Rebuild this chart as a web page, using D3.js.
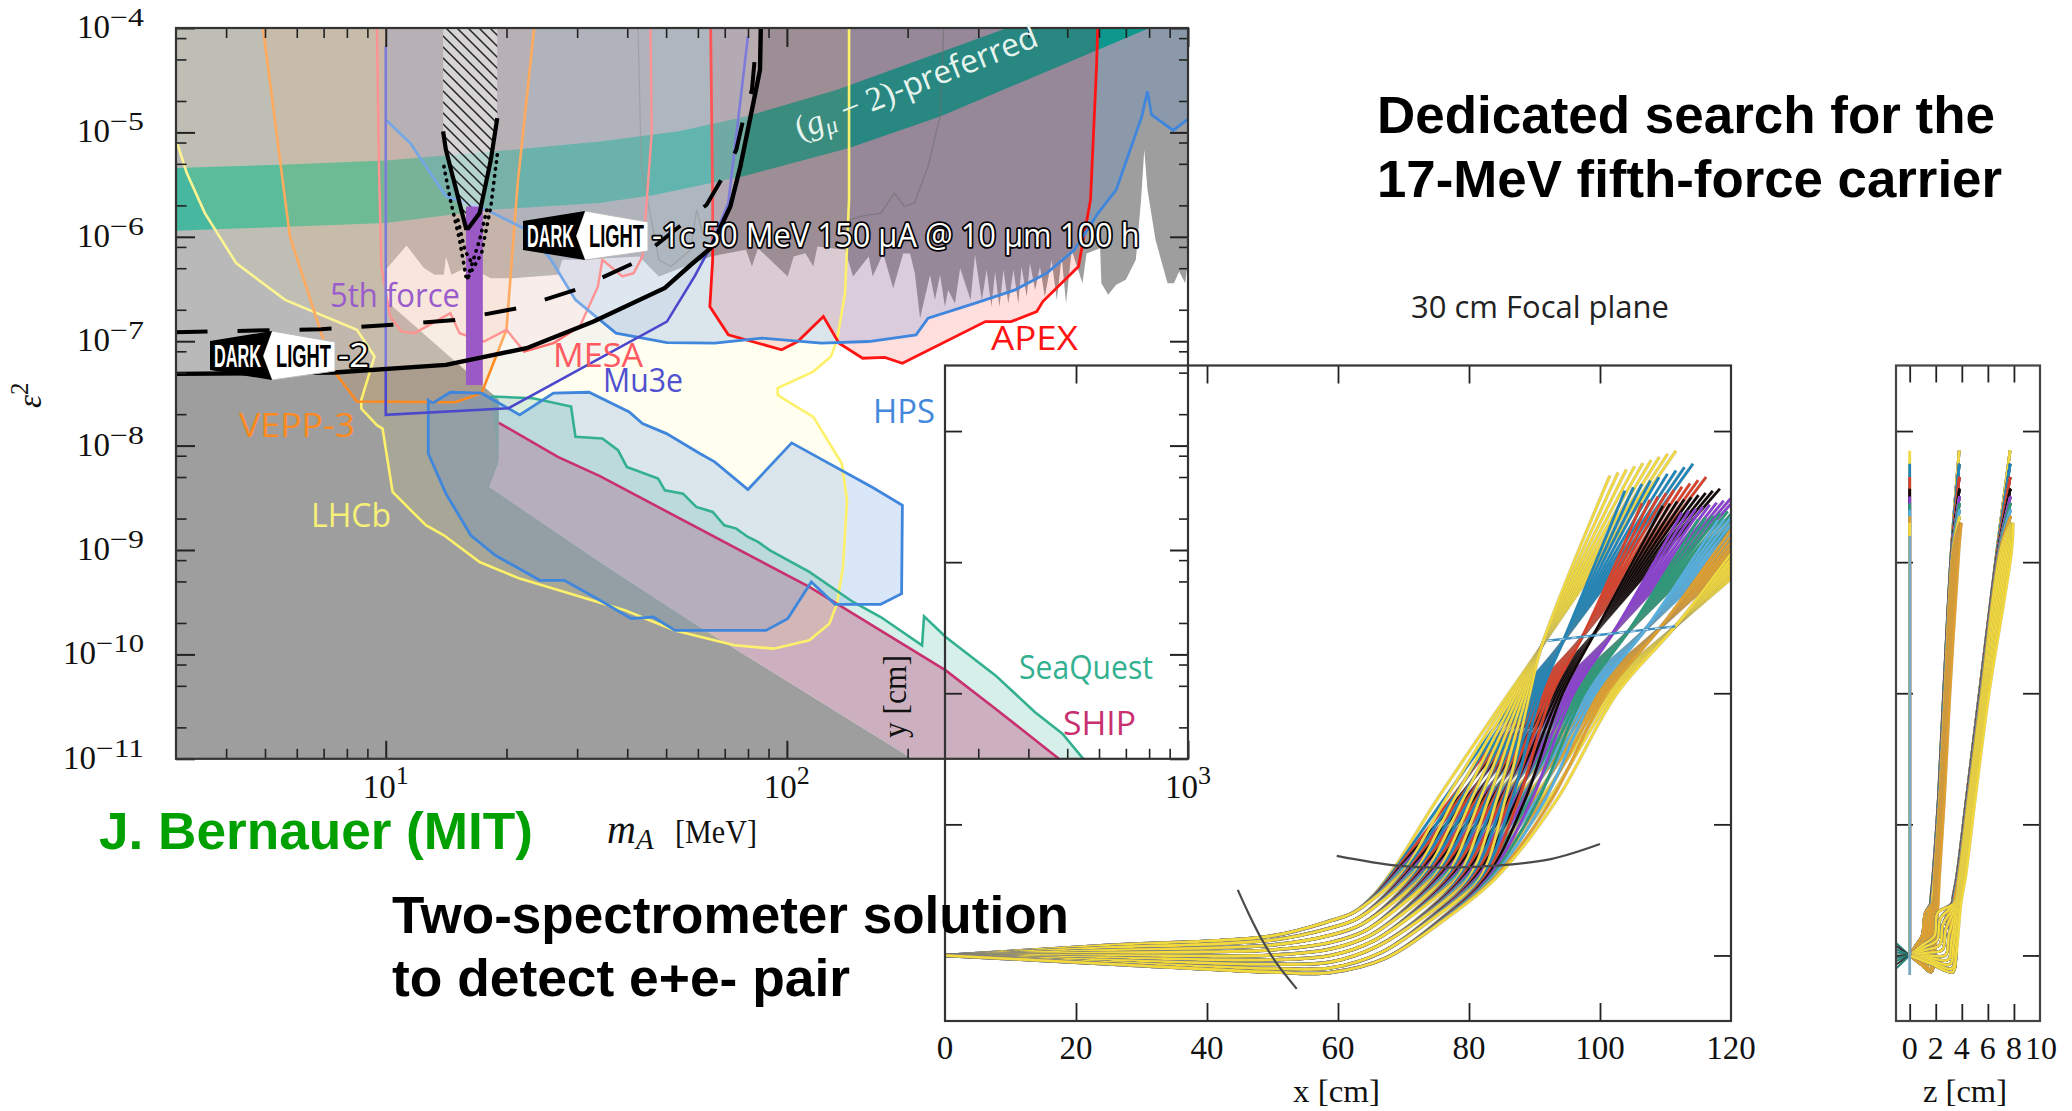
<!DOCTYPE html>
<html>
<head>
<meta charset="utf-8">
<title>Dedicated search for the 17-MeV fifth-force carrier</title>
<script src="https://cdn.jsdelivr.net/npm/d3@7"></script>
<style>
  html, body { margin: 0; padding: 0; background: #fff; }
  svg { display: block; }
  .serif { font-family: "Liberation Serif", serif; fill: #111; }
  .sans { font-family: "Open Sans", sans-serif; }
  .bold { font-family: "Liberation Sans", sans-serif; font-weight: bold; }
</style>
</head>
<body>
<svg id="chart" width="2072" height="1111"></svg>
<script>
"use strict";

/* Exclusion plot, all curves are [log10(mA / MeV), log10(eps^2)]. */

const m_major = [10, 100, 1000];
const m_minor = [4, 5, 6, 7, 8, 9, 20, 30, 40, 50, 60, 70, 80, 90, 200, 300, 400, 500, 600, 700, 800, 900];
const eps_major_exp = [-4, -5, -6, -7, -8, -9, -10, -11];
const eps_minor_mant = [2, 5, 8];

const gray_region = [[0.476,-4],[3,-4],[3,-6.22],[2.993,-6.444],[2.978,-6.332],[2.965,-6.444],[2.949,-6.444],[2.919,-6.029],
  [2.899,-5.55],[2.891,-5.166],[2.883,-5.645],[2.87,-6.22],[2.845,-6.412],[2.821,-6.46],[2.801,-6.556],[2.784,-6.444],
  [2.781,-6.109],[2.747,-6.159],[2.737,-6.446],[2.71,-6.127],[2.696,-6.638],[2.685,-6.191],[2.673,-6.606],[2.66,-6.222],
  [2.643,-6.574],[2.631,-6.286],[2.619,-6.51],[2.606,-6.254],[2.598,-6.574],[2.585,-6.286],[2.577,-6.638],[2.565,-6.318],
  [2.552,-6.638],[2.54,-6.318],[2.53,-6.669],[2.519,-6.334],[2.51,-6.669],[2.498,-6.318],[2.486,-6.606],[2.469,-6.175],
  [2.458,-6.606],[2.432,-6.302],[2.419,-6.638],[2.402,-6.51],[2.394,-6.669],[2.382,-6.366],[2.369,-6.606],[2.357,-6.366],
  [2.332,-6.781],[2.319,-6.35],[2.307,-6.159],[2.29,-6.159],[2.265,-6.494],[2.24,-6.159],[2.214,-6.38],[2.204,-6.188],
  [2.165,-6.38],[2.145,-6.125],[2.076,-6.093],[2.066,-6.284],[2.046,-6.157],[2.017,-6.188],[2.002,-6.38],[1.928,-6.109],
  [1.913,-6.284],[1.898,-6.125],[1.81,-6.188],[1.681,-6.38],[1.632,-6.188],[1.484,-6.22],[1.44,-6.22],[1.429,-6.364],
  [1.317,-6.396],[1.262,-6.396],[1.206,-6.284],[1.164,-6.364],[1.15,-6.188],[1.145,-6.364],[1.122,-6.364],[1.095,-6.3],
  [1.052,-6.083],[1,-6.316],[1.003,-6.62],[1.017,-6.668],[1.282,-7.562],[1.282,-8.156],[1.259,-8.396],[1.534,-9.115],
  [1.783,-9.737],[2.313,-11],[0.476,-11]];

const g2_upper = [[0.476,-5.342],[0.738,-5.31],[1,-5.268],[1.317,-5.166],[1.533,-5.086],[1.731,-4.99],[1.898,-4.847],[2.125,-4.591],[2.549,-4]];
const g2_lower = [[0.476,-5.942],[1,-5.869],[1.262,-5.741],[1.533,-5.677],[1.672,-5.597],[1.889,-5.422],[2.155,-5.15],[2.382,-4.847],[2.776,-4.208],[2.904,-4]];

const lhcb_line = [[0.48,-5.102],[0.504,-5.39],[0.549,-5.773],[0.627,-6.252],[0.749,-6.604],[0.928,-6.891],[0.972,-7.147],
  [0.939,-7.562],[0.939,-7.645],[0.978,-7.805],[0.992,-7.837],[1.017,-8.444],[1.1,-8.763],[1.145,-8.859],[1.234,-9.115],
  [1.334,-9.274],[1.473,-9.434],[1.596,-9.578],[1.721,-9.77],[1.869,-9.913],[1.967,-9.945],[2.056,-9.865],[2.106,-9.706],
  [2.125,-9.514],[2.14,-9.162],[2.15,-8.523],[2.137,-8.172],[2.066,-7.725],[1.997,-7.565],[1.977,-7.514],[1.977,-7.45],
  [2.066,-7.291],[2.11,-7.147],[2.125,-6.987],[2.145,-6.54],[2.155,-5.645],[2.155,-4]];

const mesa_line = [[0.978,-4],[0.983,-5.326],[0.989,-6.284],[1.011,-6.764],[1.039,-6.907],[1.072,-6.923],[1.161,-6.732],
  [1.184,-6.923],[1.245,-7.003],[1.301,-6.891],[1.345,-7.099],[1.418,-7.019],[1.484,-6.859],[1.529,-6.476],[1.54,-6.22],
  [1.59,-6.38],[1.618,-6.348],[1.64,-6.188],[1.646,-5.901],[1.663,-5.006],[1.66,-4]];

const vepp3_line = [[0.694,-4],[0.761,-5.997],[0.839,-6.923],[0.878,-7.323],[0.928,-7.578],[1.173,-7.585],[1.239,-7.498],
  [1.301,-6.891],[1.329,-5.486],[1.37,-4]];

const apex_line = [[1.810,-4],[1.815,-5.645],[1.815,-6.22],[1.808,-6.668],[1.854,-6.939],[1.987,-7.083],[2.027,-7.003],
  [2.091,-6.764],[2.13,-7.019],[2.189,-7.163],[2.244,-7.155],[2.288,-7.211],[2.495,-6.812],[2.559,-6.812],[2.623,-6.716],
  [2.638,-6.62],[2.727,-6.284],[2.757,-5.645],[2.772,-4.367],[2.775,-4]];

const hps_upper = [[1,-4.879],[1.061,-5.102],[1.15,-5.613],[1.251,-5.741],[1.351,-5.933],[1.412,-6.22],[1.473,-6.604],
  [1.574,-6.923],[1.701,-7.013],[1.82,-7.019],[1.938,-6.971],[2.086,-7.019],[2.204,-7.003],[2.322,-6.939],[2.352,-6.78],
  [2.47,-6.636],[2.569,-6.508],[2.648,-6.348],[2.717,-6.125],[2.776,-5.773],[2.821,-5.55],[2.885,-4.847],[2.899,-4.607],
  [2.909,-4.831],[2.963,-4.981],[3,-4.872]];

const hps_lower = [[1.117,-7.594],[1.161,-7.489],[1.239,-7.498],[1.334,-7.706],[1.418,-7.498],[1.507,-7.489],[1.607,-7.677],
  [1.64,-7.789],[1.7,-7.885],[1.783,-8.076],[1.82,-8.156],[1.903,-8.421],[2.012,-7.974],[2.214,-8.402],[2.288,-8.571],
  [2.286,-9.418],[2.234,-9.52],[2.12,-9.52],[2.061,-9.306],[2.002,-9.658],[1.948,-9.77],[1.721,-9.77],[1.667,-9.642],
  [1.612,-9.658],[1.534,-9.482],[1.445,-9.29],[1.384,-9.29],[1.273,-9.051],[1.212,-8.859],[1.15,-8.46],[1.106,-8.076],[1.106,-7.565]];

const mu3e_line = [[1,-4.176],[1,-7.706],[1.306,-7.642],[1.701,-6.812],[1.77,-6.38],[1.81,-6.093],[1.854,-5.677],[1.903,-4.08]];

const seaquest_line = [[1.262,-7.53],[1.367,-7.546],[1.462,-7.626],[1.473,-7.916],[1.54,-7.932],[1.579,-8.044],[1.601,-8.204],
  [1.679,-8.316],[1.696,-8.428],[1.741,-8.46],[1.774,-8.587],[1.815,-8.635],[1.844,-8.763],[1.874,-8.795],[1.903,-8.875],
  [1.928,-8.923],[1.958,-9.003],[2.056,-9.21],[2.165,-9.498],[2.234,-9.642],[2.337,-9.913],[2.342,-9.635],[2.396,-9.833],
  [2.52,-10.201],[2.618,-10.552],[2.687,-10.76],[2.739,-11]];

const ship_line = [[1.282,-7.782],[1.429,-8.108],[1.534,-8.293],[2.056,-9.354],[2.396,-10.153],[2.52,-10.52],[2.678,-11]];
const dump_edge = [[2.313,-11],[1.783,-9.737],[1.534,-9.115],[1.259,-8.396],[1.282,-8.156]];

const darklight2_solid = [[0.476,-7.313],[0.872,-7.3],[1.15,-7.227],[1.351,-7.067],[1.518,-6.812],[1.696,-6.49],[1.76,-6.27],
  [1.81,-6.109],[1.859,-5.709],[1.884,-5.326],[1.913,-4.783],[1.933,-4.399],[1.935,-4]];
const darklight1c_dash = [[0.476,-6.914],[0.839,-6.885],[1.017,-6.843],[1.173,-6.796],[1.329,-6.684],[1.473,-6.508],
  [1.618,-6.252],[1.8,-5.693],[1.839,-5.438],[1.874,-5.166],[1.891,-4.879],[1.913,-4.591],[1.92,-4.288]];

const contour_left = [[1.629,-4],[1.637,-5.326],[1.681,-6.22],[1.711,-6.284],[1.76,-6.125],[1.775,-5.741],[1.79,-5.965]];
const contour_right = [[2.391,-4],[2.382,-4.847],[2.352,-5.326],[2.318,-5.677],[2.293,-5.709],[2.268,-5.581],[2.234,-5.773],[2.184,-5.805],[2.145,-5.853]];

const hatch_region = [[1.143,-4],[1.278,-4],[1.278,-4.863],[1.262,-5.262],[1.234,-5.773],[1.206,-5.917],[1.2,-5.917],[1.15,-5.166],[1.143,-4.99]];
const vee_line = [[1.143,-4.99],[1.15,-5.166],[1.2,-5.917],[1.206,-5.917],[1.234,-5.773],[1.262,-5.262],[1.278,-4.863]];
const dots_left = [[1.145,-5.326],[1.161,-5.645],[1.184,-6.029],[1.2,-6.38]];
const dots_left_inner = [[1.18,-5.84],[1.197,-6.126],[1.217,-6.27]];
const dots_right = [[1.278,-5.214],[1.262,-5.709],[1.239,-6.157],[1.204,-6.396]];
const dots_right_inner = [[1.252,-5.743],[1.234,-6.03],[1.204,-6.395]];
const fifth_force = { lgm: [1.2, 1.242], lge: [-5.71, -7.42] };

/* Spectrometer tracks, in cm. Index g = momentum group, index j = track in the angular fan. */

const x_ticks = [0, 20, 40, 60, 80, 100, 120];
const y_ticks = [0, 20, 40, 60, 80];
const z_ticks = [0, 2, 4, 6, 8, 10];

const track_colors = ["#f0d840", "#1f85b8", "#d8402a", "#120808", "#8a3fd0", "#2a9a78", "#55b0e0", "#e0a030", "#f2d93c"];

const fan25_y = [1.55, 1.2, 0.8, 0.4, 0, -0.35, -0.7, -1.05, -1.3];
const fan50_y = [3.0, 2.35, 1.6, 0.85, 0.05, -0.65, -1.35, -2.0, -2.55];
const lift_x = [58.9, 58.9, 58.9, 58.9, 58.9, 58.9, 58.9, 58.9, 58.9];
const lift_y = [5.3, 4.2, 3.1, 2.0, 1.0, 0, -1.0, -1.9, -2.6];
const bend_x = [62.3, 62.9, 63.5, 64.2, 64.8, 65.4, 66, 66.7, 67.3];
const bend_y = [6.5, 5.6, 4.7, 3.8, 3, 2.2, 1.4, 0.5, -0.4];
const turn_x = [65.6, 66.9, 68.2, 69.4, 70.7, 72, 73.3, 74.5, 75.8];
const turn_group_dx = [0, 0.1, 0.2, 0.3, 0.4, 0.5, 0.6, 0.7, 0.8];
const turn_y = [9.4, 9, 8.5, 8.1, 7.6, 7.2, 6.6, 6.2, 5.7];
const rise_x = [69, 70.6, 72.2, 73.7, 75.3, 76.9, 78.5, 80.1, 81.7];
const rise_group_dx = [0, 0.3, 0.6, 0.9, 1.2, 1.5, 1.8, 2.1, 2.4];
const rise_y = [14, 13.7, 13.4, 13.2, 12.9, 12.6, 12.3, 12, 11.8];
const at24_x = [75, 76.3, 77.6, 79, 80.3, 81.6, 82.9, 84.2, 85.5];
const at24_group_dx = [0, 1, 2, 3, 4, 5, 6, 7, 7.8];
const at40_x = [86.1, 86.5, 86.9, 87.3, 87.7, 88.1, 88.5, 88.9, 89.3];
const at40_group_dx = [0, 1.7, 3.4, 5, 6.7, 8.3, 10, 11.7, 13.3];
const focus_x = [91.1, 94.4, 97.3, 99.2, 102, 104.3, 106.9, 109.2, 111.5];
const focus_y = [47.2, 48, 48.6, 49.2, 49.2, 49.4, 49.7, 50, 50.2];
const end_left_x = [101.5, 103.8, 106.4, 109.6, 112.5, 115, 118, 120, 122];
const end_left_y = [73.2, 70.9, 69, 68.6, 67.5, 66.5, 66.4, 65, 64];
const end_right_x = [111.6, 114.2, 116.2, 118.3, 121, 124, 126, 128, 130];
const end_right_y = [77, 75, 73, 71.2, 70, 69, 68, 67, 66];
const fan_share = [1, 0.875, 0.75, 0.625, 0.5, 0.375, 0.25, 0.125, 0];

const entry_arc = [[44.7, 10], [46.4, 6.3], [48.5, 2.2], [50.7, -1.3], [53.7, -5.1]];
const exit_arc = [[59.8, 15.2], [69, 13.7], [75.7, 13.4], [84.1, 13.7], [92.5, 14.7], [100, 17]];
const focal_line = [[92, 48], [111.5, 50.2]];

// side view: the three planes the pairs end up in
const side_y = [8, 12, 24, 40, 62];
const side4_left = [1.6, 1.78, 2.2, 2.6, 3.2];
const side4_right = [2.2, 2.3, 2.68, 3.1, 3.8];
const side4_top_left = 3.8, side4_top_right = 3.97;
const side8_left = [3.25, 3.6, 4.35, 5.34, 6.7];
const side8_right = [3.95, 4.3, 5.05, 6.1, 7.85];
const side8_top_left = 7.7, side8_top_right = 7.95;
const side4_turn_z = [0.95, 1.05, 1.15, 1.25, 1.35, 1.45, 1.55, 1.62, 1.65];
const side8_turn_z = [1.9, 2.1, 2.3, 2.5, 2.75, 2.95, 3.1, 3.25, 3.3];
const side_share_start = [0, 0.03, 0.06, 0.09, 0.12, 0.15, 0.18, 0.21, 0.26];
const side_share_width = [0.02, 0.02, 0.02, 0.02, 0.02, 0.02, 0.02, 0.04, 0.74];
const side4_colors = ["#f0d840", "#1f85b8", "#d8402a", "#120808", "#8a3fd0", "#2a9a78", "#55b0e0", "#f2d93c", "#e0a030"];
const back_fan_y = [2.2, 1.7, 1.1, 0.6, 0, -0.5, -1, -1.6, -2.3];

/* ---------------------------------------------------------------- */

const svg = d3.select("#chart");

// Scales
const x = d3.scaleLog().domain([3, 1000]).range([176, 1188]);
const y = d3.scaleLog().domain([1e-11, 1e-4]).range([758.8, 28]);
const x2 = d3.scaleLinear().domain([0, 120]).range([945, 1731]);
const y2 = d3.scaleLinear().domain([-10, 90]).range([1021, 365.5]);
const x3 = d3.scaleLinear().domain([-1.05, 10]).range([1896, 2040]);

const curve = d3.line().x(d => x(Math.pow(10, d[0]))).y(d => y(Math.pow(10, d[1])));
const add_area = (points, color, opacity) => svg.append("path")
    .attr("d", curve(points) + "Z").attr("fill", color).attr("fill-opacity", opacity).attr("stroke", "none");
const add_line = (points, color, width) => svg.append("path")
    .attr("d", curve(points)).attr("fill", "none").attr("stroke", color).attr("stroke-width", width);

// Squeeze a text to a width with a real transform, so its box is the drawn box too.
function fit_text(text, px, py, width) {
    const natural = text.node().getComputedTextLength();
    text.attr("transform", "translate(" + px + "," + py + ") scale(" + (width / natural) + ",1)");
    return text;
}

svg.append("defs").html(
    '<pattern id="hatch" width="11" height="11" patternUnits="userSpaceOnUse">' +
    '<path d="M0,0L11,11M-2,9L2,13M9,-2L13,2" stroke="#222" stroke-width="1.5"/></pattern>' +
    '<clipPath id="clip_top"><rect x="945" y="365.5" width="786" height="655.5"/></clipPath>' +
    '<clipPath id="clip_side"><rect x="1896" y="365.5" width="144" height="655.5"/></clipPath>');

// The filled regions, the order matters because they are see-through.
add_area(gray_region, "#9e9e9e", 1);
add_area(g2_upper.concat(g2_lower.slice().reverse()), "#009b7a", 1);
add_area(seaquest_line.concat(dump_edge), "#33b090", 0.2);
add_area(ship_line.concat(dump_edge), "#cdb0c0", 1);
add_area(lhcb_line.concat([[0.476, -4], [0.476, -5.09]]), "#fff564", 0.1);
add_area(vepp3_line, "#ff8c1e", 0.12);
add_area(mesa_line, "#ff5a5a", 0.08);
add_area(apex_line, "#ff0000", 0.13);
add_area(hps_upper.concat([[3, -4], [1, -4]]), "#4488dd", 0.2);
add_area(hps_lower, "#4488dd", 0.2);
add_area(mu3e_line.concat([[1.903, -4], [1, -4]]), "#5c5cd6", 0.06);

add_line(contour_left, "rgba(110,110,110,0.6)", 1.3);
add_line(contour_right, "rgba(110,110,110,0.6)", 1.3);
add_line(lhcb_line, "#fdf06a", 2.6);
add_line(seaquest_line, "#33b090", 2.6);
add_line(ship_line, "#c83070", 2.6);
add_line(vepp3_line, "#ff8a20", 2.6);
add_line(mesa_line, "#ff6a6a", 2.4);
add_line(apex_line, "#ff1414", 2.8);
add_line(hps_upper, "#3f86dc", 2.8);
add_line(hps_lower.concat([hps_lower[0]]), "#3f86dc", 2.8);
add_line(mu3e_line, "#4c48cc", 2.6);

// Everything above the DarkLight-2 reach is a bit washed out, also the lines in it.
add_area(darklight2_solid.concat([[0.476, -4]]), "#ffffff", 0.28);

// Hatched box and the purple bar of the 17 MeV anomaly
add_area(hatch_region, "#ffffff", 0.45);
add_area(hatch_region, "url(#hatch)", 1);
svg.append("rect")
    .attr("x", x(Math.pow(10, fifth_force.lgm[0])))
    .attr("y", y(Math.pow(10, fifth_force.lge[0])))
    .attr("width", x(Math.pow(10, fifth_force.lgm[1])) - x(Math.pow(10, fifth_force.lgm[0])))
    .attr("height", y(Math.pow(10, fifth_force.lge[1])) - y(Math.pow(10, fifth_force.lge[0])))
    .attr("fill", "#9b59c6");
add_line(vee_line, "#000", 4.2);
[dots_left, dots_left_inner, dots_right, dots_right_inner].forEach(points => {
    add_line(points, "#000", 3.6).attr("stroke-dasharray", "0.5,6.5").attr("stroke-linecap", "round");
});

add_line(darklight2_solid, "#000", 4.4);
add_line(darklight1c_dash, "#000", 4).attr("stroke-dasharray", "32,30");

// Frame and ticks of the limit plot
const frame = (l, t, r, b, color) => svg.append("rect")
    .attr("x", l).attr("y", t).attr("width", r - l).attr("height", b - t)
    .attr("fill", "none").attr("stroke", color).attr("stroke-width", 2.2);

function add_ticks(axis_fn, scale, values, offset, size, width, color) {
    const g = svg.append("g")
        .attr("transform", offset)
        .call(axis_fn(scale).tickValues(values).tickSize(size).tickFormat(""));
    g.select(".domain").remove();
    g.selectAll("line").attr("stroke", color).attr("stroke-width", width);
    return g;
}

const eps_major = eps_major_exp.map(e => Math.pow(10, e));
const eps_minor = [];
eps_major_exp.slice(1).forEach(e => eps_minor_mant.forEach(k => eps_minor.push(k * Math.pow(10, e))));

add_ticks(d3.axisBottom, x, m_major, "translate(0,758.8)", -18, 2, "#222");
add_ticks(d3.axisBottom, x, m_minor, "translate(0,758.8)", -10, 1.6, "#222");
add_ticks(d3.axisTop, x, m_major, "translate(0,28)", -19, 2, "#222");
add_ticks(d3.axisTop, x, m_minor, "translate(0,28)", -10, 1.6, "#222");
add_ticks(d3.axisLeft, y, eps_major, "translate(176,0)", -19, 2, "#222");
add_ticks(d3.axisLeft, y, eps_minor, "translate(176,0)", -10.5, 1.6, "#222");
add_ticks(d3.axisRight, y, eps_major, "translate(1188,0)", -18, 2, "#222");
add_ticks(d3.axisRight, y, eps_minor, "translate(1188,0)", -9, 1.6, "#222");
frame(176, 28, 1188, 758.8, "#333");

// Tick labels like 10^-4 in the latex style. Base and exponent are two texts,
// the exponent of the original is wider than any font we have.
function power_label(right, py, exponent, sup_len, sup_dy) {
    svg.append("text").attr("class", "serif").attr("x", right - sup_len - 33).attr("y", py)
        .attr("font-size", 33).attr("textLength", 33).attr("lengthAdjust", "spacingAndGlyphs").text("10");
    svg.append("text").attr("class", "serif").attr("x", right - sup_len).attr("y", py + sup_dy)
        .attr("font-size", 26).attr("textLength", sup_len).attr("lengthAdjust", "spacingAndGlyphs").text(exponent);
}
eps_major_exp.forEach(e => {
    power_label(144, y(Math.pow(10, e)) + 10, String(e).replace("-", "\u2212"), e <= -10 ? 48 : 34, -12);
});
m_major.forEach((m, i) => power_label(x(m) + 23, 798, String(i + 1), 13, -14));

// eps^2 and mA [MeV]
const eps_label = svg.append("text").attr("class", "serif")
    .attr("transform", "translate(41,408) rotate(-90)").attr("font-size", 33).attr("font-style", "italic");
eps_label.append("tspan").text("\u03B5");
eps_label.append("tspan").attr("font-size", 25).attr("dy", -13).attr("font-style", "normal").text("2");

const mass_label = svg.append("text").attr("class", "serif").attr("x", 607).attr("y", 843).attr("font-size", 40);
mass_label.append("tspan").attr("font-style", "italic").text("m");
mass_label.append("tspan").attr("font-size", 29).attr("dy", 6).attr("font-style", "italic").text("A");
svg.append("text").attr("class", "serif").attr("x", 675).attr("y", 843).attr("font-size", 34)
    .attr("textLength", 82).attr("lengthAdjust", "spacingAndGlyphs").text("[MeV]");

// Names of the experiments
const region_labels = [
    ["5th force", 330, 307, 130, "#9a5ccc"],
    ["MESA", 553, 367, 90, "#ff5a62"],
    ["Mu3e", 603, 392, 80, "#5050d0"],
    ["VEPP-3", 239, 437, 116, "#ff8a20"],
    ["LHCb", 311, 527, 80, "#f6f078"],
    ["HPS", 873, 423, 62, "#4488dd"],
    ["APEX", 991, 350, 87, "#ff1414"],
    ["SeaQuest", 1019, 679, 134, "#33b090"],
    ["SHIP", 1063, 735, 73, "#c83070"]
];
svg.selectAll("text.region").data(region_labels).join("text")
    .attr("class", "region sans")
    .attr("x", d => d[1]).attr("y", d => d[2])
    .attr("font-size", 32)
    .attr("textLength", d => d[3]).attr("lengthAdjust", "spacingAndGlyphs")
    .attr("fill", d => d[4]).text(d => d[0]);

const g2_label = svg.append("text").attr("transform", "translate(800,140) rotate(-21.5)").attr("fill", "#e6f4ee")
    .attr("font-family", "Liberation Serif").attr("font-size", 34);
g2_label.append("tspan").text("(");
g2_label.append("tspan").attr("font-style", "italic").text("g");
g2_label.append("tspan").attr("font-style", "italic").attr("font-size", 24).attr("dy", 6).text("\u03BC");
g2_label.append("tspan").attr("dy", -6).text(" \u2212 2)");
g2_label.append("tspan").attr("font-family", "Open Sans").attr("font-size", 32).text("-preferred");

// DarkLight logo, a black arrow and a white arrow that lock into each other
function add_logo(left, top) {
    svg.append("polygon").attr("transform", "translate(" + left + "," + top + ")")
        .attr("points", "62,0 125,11 125,40 62,49 53,25").attr("fill", "#fff").attr("stroke", "#bbb").attr("stroke-width", 1);
    svg.append("polygon").attr("transform", "translate(" + left + "," + top + ")")
        .attr("points", "0,10 62,0 53,25 62,49 0,39").attr("fill", "#000");
    const logo_text = (s, fill) => svg.append("text").attr("font-family", "Liberation Sans").attr("font-weight", "bold")
        .attr("font-size", 31).attr("fill", fill).text(s);
    fit_text(logo_text("DARK", "#fff"), left + 4, top + 36, 47);
    fit_text(logo_text("LIGHT", "#000"), left + 66, top + 36, 55);
}
add_logo(523, 211);
add_logo(210, 331);

function outlined(text, px, py, width) {
    const t = svg.append("text")
        .attr("font-family", "Open Sans").attr("font-size", 32)
        .attr("fill", "#fff").attr("stroke", "#000").attr("stroke-width", 3.6)
        .attr("paint-order", "stroke").attr("stroke-linejoin", "round").text(text);
    fit_text(t, px, py, width);
}
outlined("-1c 50 MeV  150 \u03BCA @ 10 \u03BCm  100 h", 652, 247, 488);
outlined("-2", 338, 367, 31);

/* ---------------------------------------------------------------- */
/* Spectrometer, top view. Ticks first, the tracks go over them. */

const track_line = d3.line().curve(d3.curveCatmullRom.alpha(0.5)).x(d => x2(d[0])).y(d => y2(d[1]));
const side_line = d3.line().curve(d3.curveCatmullRom.alpha(0.5)).x(d => x3(d[0])).y(d => y2(d[1]));

add_ticks(d3.axisBottom, x2, x_ticks.slice(1, -1), "translate(0,1021)", -18, 1.8, "#222");
add_ticks(d3.axisTop, x2, x_ticks.slice(1, -1), "translate(0,365.5)", -18, 1.8, "#222");
add_ticks(d3.axisLeft, y2, y_ticks, "translate(945,0)", -17, 1.8, "#222");
add_ticks(d3.axisRight, y2, y_ticks, "translate(1731,0)", -17, 1.8, "#222");
add_ticks(d3.axisBottom, x3, z_ticks.slice(0, -1), "translate(0,1021)", -17, 1.8, "#222");
add_ticks(d3.axisTop, x3, z_ticks.slice(0, -1), "translate(0,365.5)", -17, 1.8, "#222");
add_ticks(d3.axisLeft, y2, y_ticks, "translate(1896,0)", -17, 1.8, "#222");
add_ticks(d3.axisRight, y2, y_ticks, "translate(2040,0)", -17, 1.8, "#222");

function track_points(g, j) {
    return [
        [0, 0],
        [25, fan25_y[j]],
        [50, fan50_y[j]],
        [lift_x[j], lift_y[j]],
        [bend_x[j], bend_y[j]],
        [turn_x[j] + turn_group_dx[g], turn_y[j]],
        [rise_x[j] + rise_group_dx[g], rise_y[j]],
        [at24_x[j] + at24_group_dx[g], 23.6],
        [at40_x[j] + at40_group_dx[g], 40],
        [focus_x[g], focus_y[g]],
        [end_left_x[g] + fan_share[j] * (end_right_x[g] - end_left_x[g]),
         end_left_y[g] + fan_share[j] * (end_right_y[g] - end_left_y[g])]
    ];
}

const top_tracks = svg.append("g").attr("clip-path", "url(#clip_top)").attr("fill", "none");
d3.range(9).forEach(j => {
    d3.range(9).forEach(g => {
        const d = track_line(track_points(g, j));
        top_tracks.append("path").attr("d", d).attr("stroke", "rgba(130,130,130,0.45)").attr("stroke-width", 3.4);
        top_tracks.append("path").attr("d", d).attr("stroke", track_colors[g]).attr("stroke-width", 2.6);
    });
});

top_tracks.append("path").attr("d", track_line(focal_line)).attr("stroke", "#3a8fc0").attr("stroke-width", 2.4);
top_tracks.append("path").attr("d", track_line(focal_line)).attr("stroke", "#cfe4f0").attr("stroke-width", 1).attr("stroke-dasharray", "5,7");
[entry_arc, exit_arc].forEach(points => {
    top_tracks.append("path").attr("d", track_line(points)).attr("stroke", "#4a4a4a").attr("stroke-width", 2.2);
});

/* Side view */
const side_tracks = svg.append("g").attr("clip-path", "url(#clip_side)").attr("fill", "none");

back_fan_y.forEach((v, j) => {
    side_tracks.append("path").attr("d", side_line([[0, 0], [-1.2, v]]))
        .attr("stroke", j % 3 == 1 ? "#333" : "#2a8078").attr("stroke-width", 2);
});

function add_side_family(left, right, top_left, top_right, turn_z, colors) {
    d3.range(9).forEach(g => {
        d3.range(9).forEach(j => {
            const share = side_share_start[g] + fan_share[8 - j] * side_share_width[g];
            const pts = [[0, 0], [turn_z[j] / 2, fan25_y[j]], [turn_z[j], fan50_y[j]], [turn_z[j] + 0.25, bend_y[j]]];
            side_y.forEach((v, k) => pts.push([left[k] + share * (right[k] - left[k]), v]));
            pts.push([top_left + share * (top_right - top_left), end_right_y[g]]);
            const d = side_line(pts);
            side_tracks.append("path").attr("d", d).attr("stroke", "rgba(130,130,130,0.4)").attr("stroke-width", 2.8);
            side_tracks.append("path").attr("d", d).attr("stroke", colors[g]).attr("stroke-width", 2.4);
        });
    });
}
add_side_family(side4_left, side4_right, side4_top_left, side4_top_right, side4_turn_z, side4_colors);
add_side_family(side8_left, side8_right, side8_top_left, side8_top_right, side8_turn_z, track_colors);

// the straight pairs in the mid plane, colours only show at the very top
track_colors.forEach((c, g) => {
    side_tracks.append("path").attr("d", side_line([[0, 0], [0, end_right_y[g]]]))
        .attr("stroke", c).attr("stroke-width", 2.8);
});
side_tracks.append("path").attr("d", side_line([[0, -3], [0, 64]])).attr("stroke", "#7aa8c0").attr("stroke-width", 2.8);

// Frames and labels of the two spectrometer panels
frame(945, 365.5, 1731, 1021, "#333");
frame(1896, 365.5, 2040, 1021, "#444");

svg.selectAll("text.xlab").data(x_ticks).join("text")
    .attr("class", "xlab serif").attr("x", d => x2(d)).attr("y", 1059)
    .attr("text-anchor", "middle").attr("font-size", 33).text(d => d);
svg.selectAll("text.zlab").data(z_ticks).join("text")
    .attr("class", "zlab serif").attr("x", d => x3(d) + (d == 10 ? 1 : 0)).attr("y", 1059)
    .attr("text-anchor", "middle").attr("font-size", 32).text(d => d);

svg.append("text").attr("class", "serif").attr("x", 1293).attr("y", 1102).attr("font-size", 32)
    .attr("textLength", 87).attr("lengthAdjust", "spacingAndGlyphs").text("x [cm]");
svg.append("text").attr("class", "serif").attr("x", 1923).attr("y", 1102).attr("font-size", 32)
    .attr("textLength", 84).attr("lengthAdjust", "spacingAndGlyphs").text("z [cm]");
svg.append("text").attr("class", "serif").attr("transform", "translate(906,738) rotate(-90)").attr("font-size", 33)
    .attr("textLength", 83).attr("lengthAdjust", "spacingAndGlyphs").text("y [cm]");

// The slide texts on top of it all
const slide_texts = [
    ["Dedicated search for the", 1377, 133, 618, "#000"],
    ["17-MeV fifth-force carrier", 1377, 197, 625, "#000"],
    ["J. Bernauer (MIT)", 99, 849, 434, "#00a000"],
    ["Two-spectrometer solution", 392, 933, 677, "#000"],
    ["to detect e+e- pair", 392, 996, 458, "#000"]
];
svg.selectAll("text.slide").data(slide_texts).join("text")
    .attr("class", "slide bold")
    .attr("x", d => d[1]).attr("y", d => d[2]).attr("font-size", 51)
    .attr("textLength", d => d[3]).attr("lengthAdjust", "spacingAndGlyphs")
    .attr("fill", d => d[4]).text(d => d[0]);

svg.append("text").attr("class", "sans").attr("x", 1411).attr("y", 318).attr("font-size", 31).attr("fill", "#222")
    .attr("textLength", 258).attr("lengthAdjust", "spacingAndGlyphs").text("30 cm Focal plane");
</script>
</body>
</html>
